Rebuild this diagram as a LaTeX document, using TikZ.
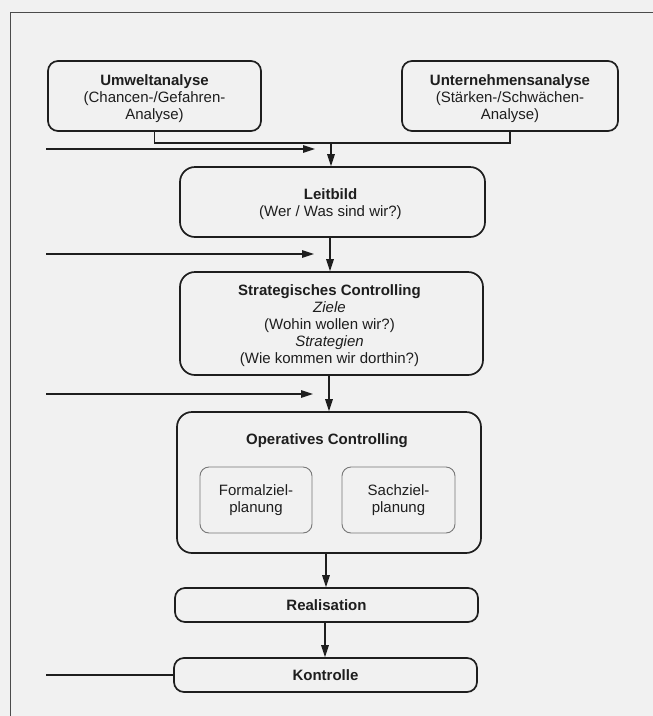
\documentclass[tikz,border=0pt]{standalone}
\usepackage{fontspec}
\setmainfont{Liberation Sans}
\usetikzlibrary{arrows.meta}
\definecolor{ink}{HTML}{1E1E1E}
\definecolor{paper}{HTML}{F1F1F1}
\definecolor{innerline}{HTML}{777777}
\tikzset{
  base/.style={draw=ink, line width=1.7pt, align=center, text=ink, inner sep=0pt,
    font=\fontsize{15}{17}\selectfont},
  bigbox/.style={base, rounded corners=10pt},
  roundbox/.style={base, rounded corners=15pt},
  innerbox/.style={draw=innerline, line width=0.9pt, rounded corners=9pt, align=center,
    text=ink, inner sep=0pt, font=\fontsize{15}{17}\selectfont},
  conn/.style={draw=ink, line width=1.4pt},
  arr/.style={conn, -{Triangle[length=12pt,width=7.5pt]}},
  frame/.style={draw=ink!80, line width=1pt},
  plain/.style={text=ink, align=center, inner sep=0pt, font=\fontsize{15}{17}\selectfont}
}
\begin{document}
\begin{tikzpicture}[x=1pt,y=-1pt]
\fill[paper] (0,0) rectangle (653,716);
\useasboundingbox (0,0) rectangle (653,716);
% frame
\coordinate (fbl) at (10,716);
\coordinate (ftl) at (10,12);
\coordinate (ftr) at (653,12);
\draw[frame] (fbl) -- (ftl) -- (ftr);
% boxes
\node[bigbox, minimum width=213pt, minimum height=70pt] (umwelt) at (154.5,96) {};
\node[plain] (umwelttxt) at (154.5,99)
  {\textbf{Umweltanalyse}\\(Chancen-/Gefahren-\\Analyse)};
\node[bigbox, minimum width=216pt, minimum height=70pt] (untern) at (510,96) {};
\node[plain] (unterntxt) at (510,99)
  {\textbf{Unternehmensanalyse}\\(Stärken-/Schwächen-\\Analyse)};
\node[roundbox, minimum width=305pt, minimum height=70pt] (leitbild) at (332.5,202) {};
\node[plain] (leitbildtxt) at (330.5,204.5)
  {\textbf{Leitbild}\\(Wer / Was sind wir?)};
\node[roundbox, minimum width=303pt, minimum height=103pt] (strat) at (331.5,323.5) {};
\node[plain] (strattxt) at (329.5,326)
  {\textbf{Strategisches Controlling}\\\textit{Ziele}\\(Wohin wollen wir?)\\\textit{Strategien}\\(Wie kommen wir dorthin?)};
\node[roundbox, minimum width=304pt, minimum height=141pt] (opc) at (329,482.5) {};
\node[plain] (opctitle) at (327,441) {\textbf{Operatives Controlling}};
\node[innerbox, minimum width=112pt, minimum height=66pt] (formal) at (256,500)
  {Formalziel-\\planung};
\node[innerbox, minimum width=113pt, minimum height=66pt] (sach) at (398.5,500)
  {Sachziel-\\planung};
\node[bigbox, minimum width=303pt, minimum height=34pt] (real) at (326.5,605)
  {\textbf{Realisation}};
\node[bigbox, minimum width=303pt, minimum height=34pt] (kontr) at (325.5,675)
  {\textbf{Kontrolle}};
% joining line of the two analyses
\coordinate (j1) at (331,143);
\draw[conn] (umwelt.south) |- (j1) -| (untern.south);
\draw[arr] (j1) -- (j1 |- leitbild.north);
% vertical flow
\draw[arr] (leitbild.south -| 330,0) -- (strat.north -| 330,0);
\draw[arr] (strat.south -| 329,0) -- (opc.north -| 329,0);
\draw[arr] (opc.south -| 326,0) -- (real.north -| 326,0);
\draw[arr] (real.south -| 325,0) -- (kontr.north -| 325,0);
% inputs from the left
\coordinate (in1s) at (46,149); \coordinate (in1e) at (315,149);
\coordinate (in2s) at (46,254); \coordinate (in2e) at (314,254);
\coordinate (in3s) at (46,394); \coordinate (in3e) at (313,394);
\draw[arr] (in1s) -- (in1e);
\draw[arr] (in2s) -- (in2e);
\draw[arr] (in3s) -- (in3e);
% feedback stub from Kontrolle
\coordinate (fb) at (46,675);
\draw[conn] (kontr.west) -- (fb);
\end{tikzpicture}
\end{document}
